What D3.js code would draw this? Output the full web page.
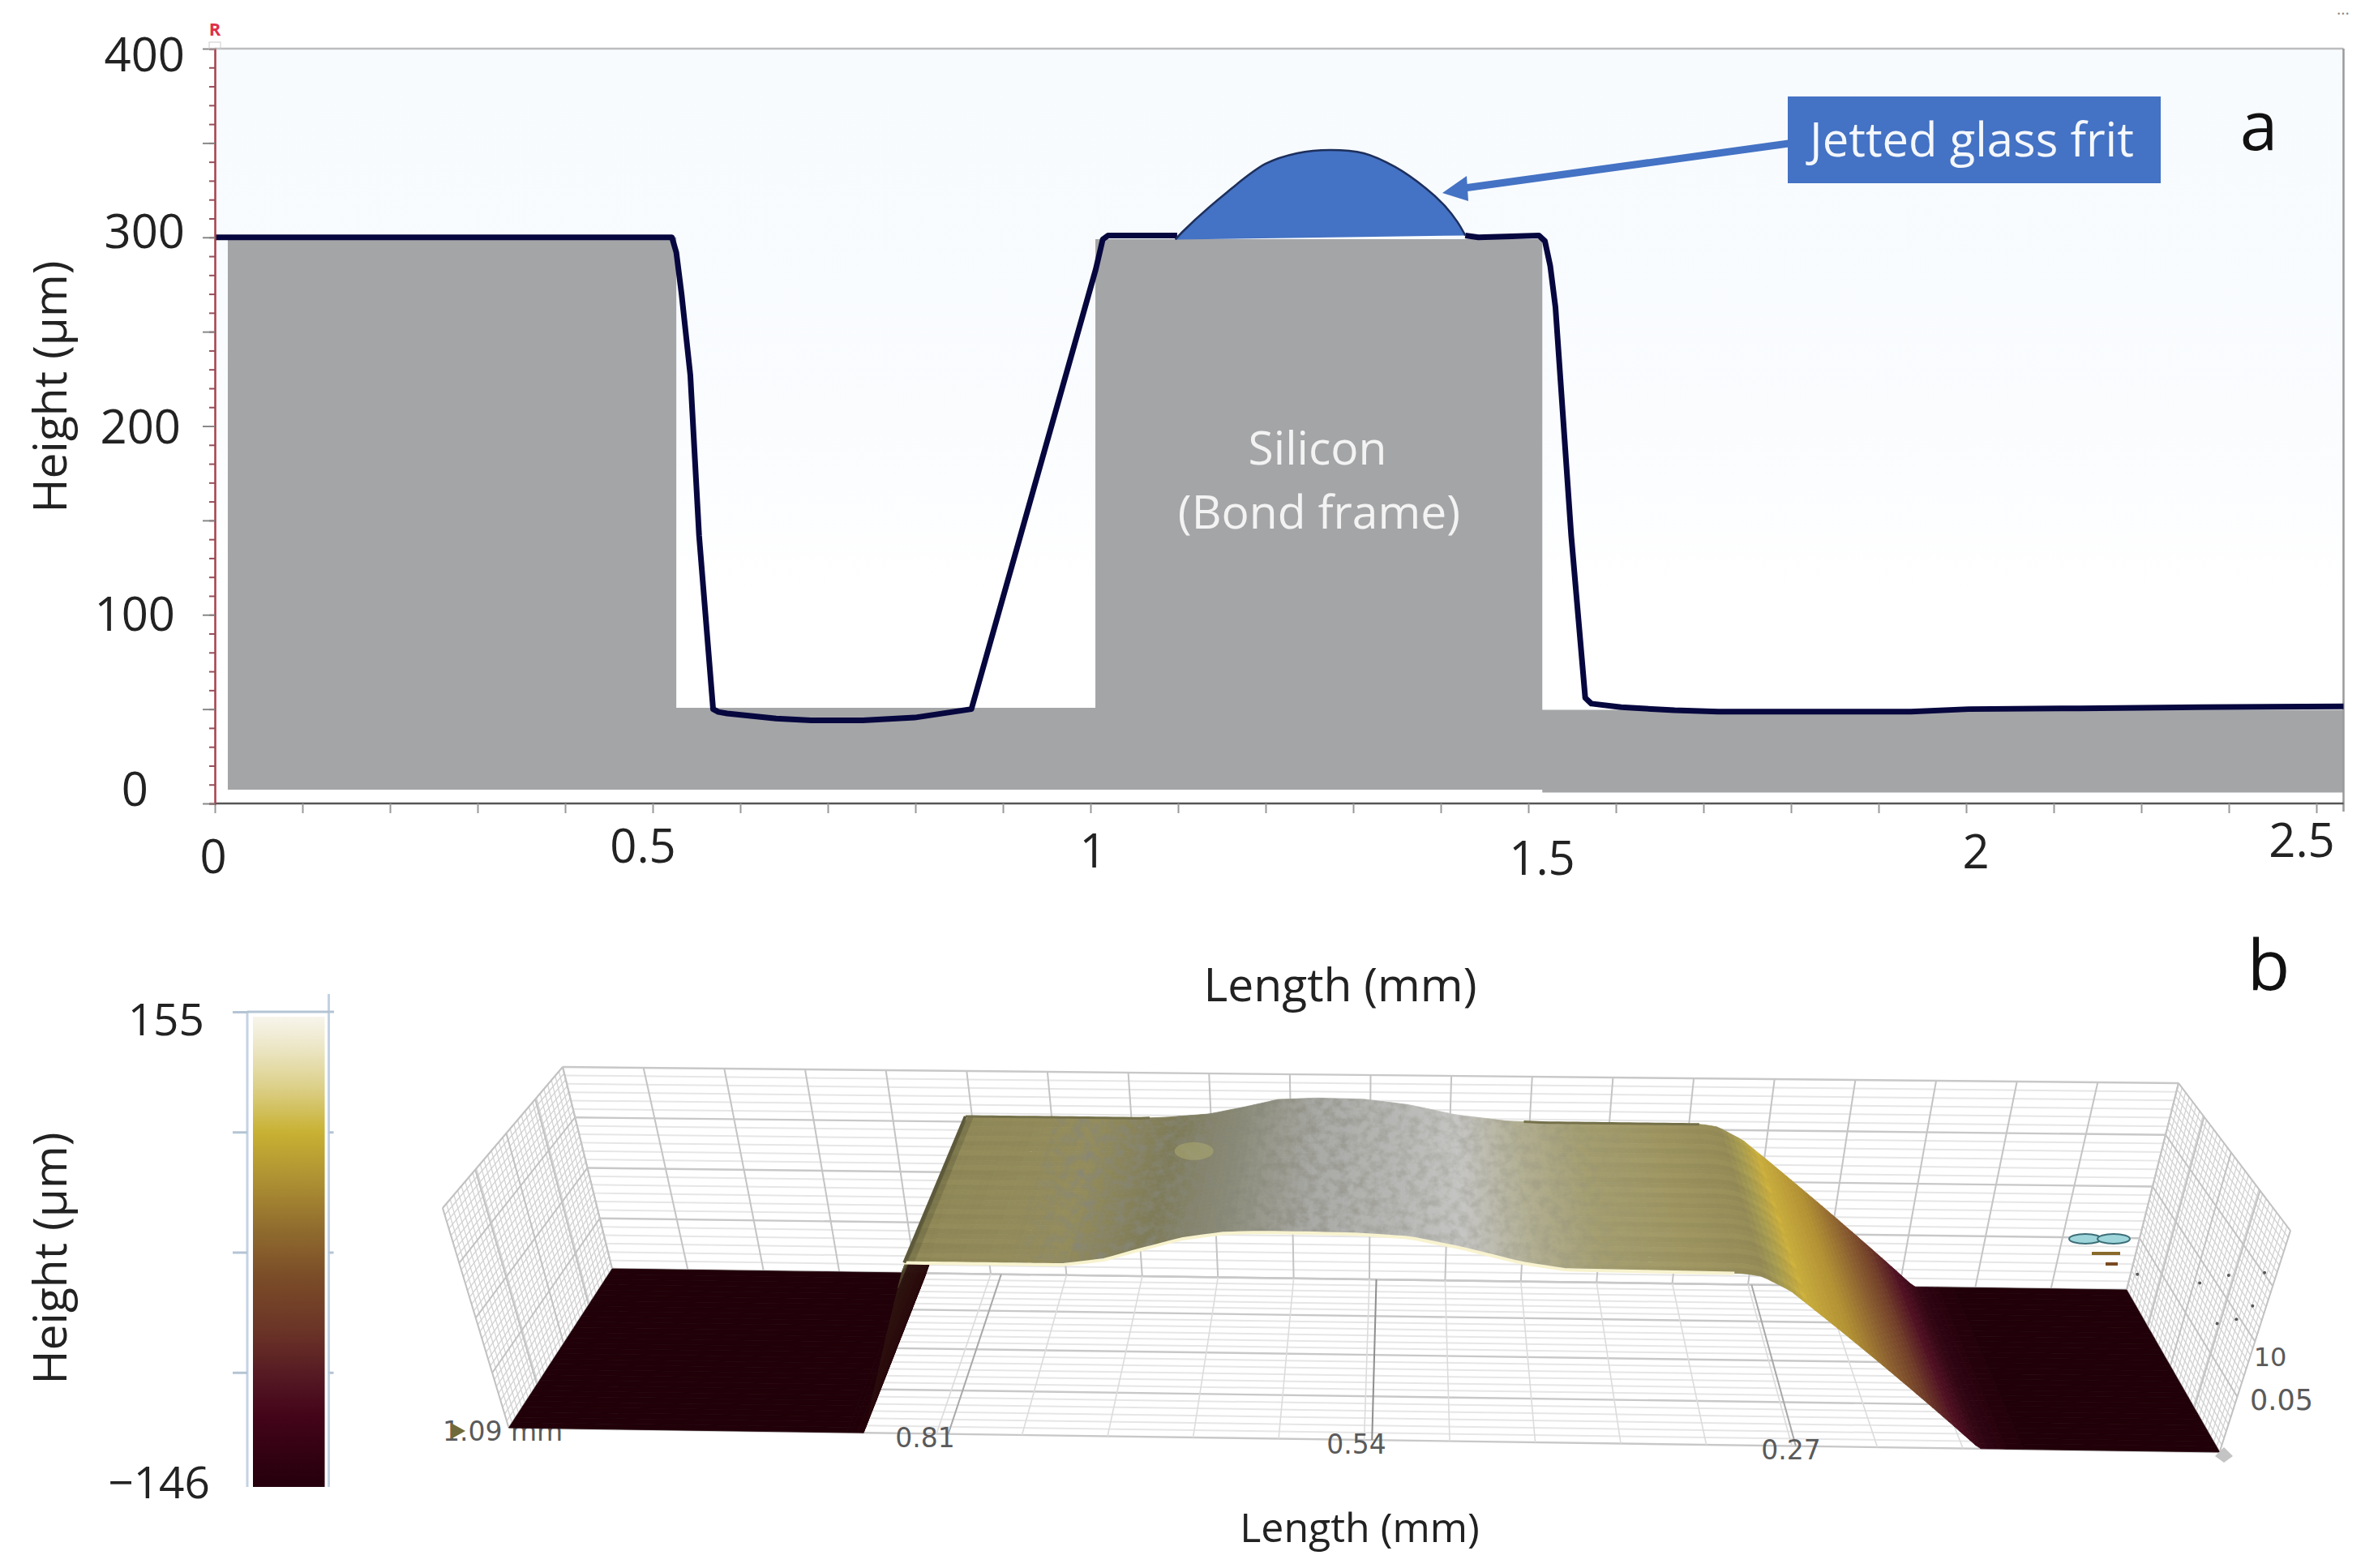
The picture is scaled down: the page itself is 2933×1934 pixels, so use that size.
<!DOCTYPE html>
<html>
<head>
<meta charset="utf-8">
<script src="https://cdn.jsdelivr.net/npm/d3@7"></script>
<style>
html,body{margin:0;padding:0;background:#fff}
svg{display:block}
text{font-family:"Open Sans",sans-serif;fill:#222}
.mono{font-family:"DejaVu Sans",sans-serif;fill:#5a5a5a}
</style>
</head>
<body>
<svg id="c" width="2933" height="1934"></svg>
<script>
// ---------- panel a data (mm, µm) ----------
const yTicks = [0, 100, 200, 300, 400];
const xTickValues = [0, 0.5, 1, 1.5, 2, 2.5];
const xTickLabels = ["0", "0.5", "1", "1.5", "2", "2.5"];
const siliconLength = [0.0148, 0.0148, 0.527, 0.527, 1.0056, 1.0056, 1.516, 1.516, 2.431, 2.431, 1.516, 1.516];
const siliconHeight = [7.3, 300, 300, 50.7, 50.7, 299, 299, 49.6, 49.6, 5.8, 5.8, 7.3];
const profileLeftLength = [0, 0.522, 0.527, 0.533, 0.543, 0.553, 0.569, 0.575, 0.585, 0.641, 0.681, 0.740, 0.799, 0.864, 1.006, 1.014, 1.020, 1.099];
const profileLeftHeight = [300, 300, 292, 270, 227, 142, 50, 48.5, 47.7, 45, 44, 44, 45.5, 50, 283, 298.9, 301, 301];
const fritLength = [1.097, 1.105, 1.153, 1.200, 1.236, 1.274, 1.312, 1.348, 1.383, 1.404, 1.419, 1.428];
const fritHeight = [298.8, 302.9, 322.8, 339, 344.6, 346.3, 344.6, 337.3, 326, 317, 308.2, 301];
const profileRightLength = [1.428, 1.443, 1.512, 1.519, 1.525, 1.531, 1.549, 1.565, 1.572, 1.606, 1.667, 1.717, 1.937, 2.003, 2.130, 2.268, 2.431];
const profileRightHeight = [301, 300, 301, 298, 285, 263, 142, 56, 52.9, 51, 49.4, 48.7, 48.7, 50, 50.4, 51, 51.5];

// ---------- panel b data ----------
const colorbarValues = [155, 134, 110, 81, 50, 18, -11, -47, -80, -101, -146];
const colorbarColors = ["#f7f5ec", "#ebe5c3", "#dcd089", "#c8b133", "#ad9033", "#8f6b2e", "#7b4d28", "#6a3327", "#511522", "#430419", "#25000c"];
const colorbarTicks = [-146, -70.75, 4.5, 79.75, 155];
const surfaceLength = [1.09, 0.863, 0.822, 0.727, 0.702, 0.685, 0.655, 0.630, 0.608, 0.582, 0.550, 0.519, 0.487, 0.452, 0.425, 0.318, 0.307, 0.289, 0.153, 0];
const surfaceFront = [-146, -146, 104, 104, 112, 124, 144, 153, 155, 155, 154, 150, 135, 115, 106, 104, 100, 80, -146, -146];
const surfaceBack = [-146, -146, 104, 104, 104, 106, 112, 124, 136, 139, 138, 130, 115, 106, 104, 104, 100, 80, -146, -146];
const shadeLength = [1.09, 0.867, 0.859, 0.830, 0.824, 0.815, 0.730, 0.676, 0.632, 0.578, 0.523, 0.485, 0.447, 0.403, 0.349, 0.305, 0.294, 0.278, 0.245, 0.218, 0.191, 0.169, 0.147, 0.125, 0];
const shadeColors = ["#210009", "#210009", "#2a0a0c", "#2e1510", "#5a5638", "#8f8757", "#948c5c", "#7d7a58", "#8a8a78", "#a9a9a6", "#b8b8b6", "#c5c5c3", "#b3b095", "#a39d70", "#9c9360", "#938a56", "#a59a50", "#c9ad3c", "#b08f33", "#8e6330", "#6e3a28", "#4f1022", "#2e0412", "#210009", "#210009"];
const stripeShade = [1.03, 0.98, 1.05, 0.99, 0.96, 1.04, 1.0, 0.97, 1.05, 1.01, 0.97, 1.04, 0.99, 1.02, 0.98];
const labelledLengths = [0.81, 0.54, 0.27];
const depthMajor = [0, 0.272, 0.53, 0.772, 1];
const wallDotDepth = [0.95, 0.49, 0.08, 0.09, 0.17, 0.29, 0.31];
const wallDotHeight = [0.114, 0.418, 0.756, 0.598, 0.481, 0.375, 0.583];

const svg = d3.select("#c");
const defs = svg.append("defs");
const BLUE = "#4472c4";

// ================= PANEL A =================
const x = d3.scaleLinear([0, 2.5], [265, 2965]);
const y = d3.scaleLinear([0, 400], [991, 60]);

const bg = defs.append("linearGradient").attr("id", "plotBg").attr("x1", 0).attr("x2", 0).attr("y1", 0).attr("y2", 1);
[[0, "#f7fbfe"], [0.5, "#fafcfe"], [0.72, "#ffffff"]].forEach(s => bg.append("stop").attr("offset", s[0]).attr("stop-color", s[1]));
svg.append("rect").attr("x", x(0)).attr("y", y(400)).attr("width", x(2.431) - x(0)).attr("height", y(0) - y(400)).attr("fill", "url(#plotBg)");

const line = d3.line().x(d => x(d[0])).y(d => y(d[1]));
const smooth = d3.line().x(d => x(d[0])).y(d => y(d[1])).curve(d3.curveCatmullRom.alpha(0.5));
const zipXY = (a, b) => a.map((v, i) => [v, b[i]]);

svg.append("path").attr("d", line(zipXY(siliconLength, siliconHeight)) + "Z").attr("fill", "#a4a5a7");

// frame
svg.append("line").attr("x1", x(0)).attr("x2", x(2.431)).attr("y1", y(400)).attr("y2", y(400)).attr("stroke", "#bdbdbd").attr("stroke-width", 2.5);
svg.append("line").attr("x1", x(2.431)).attr("x2", x(2.431)).attr("y1", y(400)).attr("y2", y(0) + 10).attr("stroke", "#9a9a9a").attr("stroke-width", 2.5);

// profile
[[profileLeftLength, profileLeftHeight], [profileRightLength, profileRightHeight]].forEach(p => {
  svg.append("path").attr("d", line(zipXY(p[0], p[1]))).attr("fill", "none")
    .attr("stroke", "#07073f").attr("stroke-width", 7).attr("stroke-linejoin", "round");
});

// frit
svg.append("path").attr("d", smooth(zipXY(fritLength, fritHeight)) + "Z").attr("fill", BLUE);
svg.append("path").attr("d", smooth(zipXY(fritLength, fritHeight))).attr("fill", "none").attr("stroke", "#1d2f5c").attr("stroke-width", 2.5);

// axes
const xAxisG = svg.append("g").attr("transform", `translate(0,${y(0)})`)
  .call(d3.axisBottom(x).tickValues(d3.range(0, 25).map(i => i / 10)).tickSize(12).tickFormat(""));
xAxisG.select(".domain").attr("d", `M${x(0)},0H${x(2.431)}`).attr("stroke", "#555").attr("stroke-width", 2.5);
xAxisG.selectAll(".tick line").attr("stroke", "#999").attr("stroke-width", 2);

const yMinor = svg.append("g").attr("transform", `translate(${x(0)},0)`)
  .call(d3.axisLeft(y).tickValues(d3.range(0, 401, 10)).tickSize(7).tickFormat(""));
yMinor.select(".domain").attr("stroke", "#a8404a").attr("stroke-width", 2.5);
yMinor.selectAll(".tick line").attr("stroke", "#94505a").attr("stroke-width", 2);
const yMajor = svg.append("g").attr("transform", `translate(${x(0)},0)`)
  .call(d3.axisLeft(y).tickValues(d3.range(0, 401, 50)).tickSize(15).tickFormat(""));
yMajor.select(".domain").remove();
yMajor.selectAll(".tick line").attr("stroke", "#888").attr("stroke-width", 2);

// tick labels (hand placed in the reference)
const yLabelAnchor = [[183, 994], [216, 778], [223, 547], [228, 306], [228, 88]];
yTicks.forEach((v, i) => svg.append("text").attr("x", yLabelAnchor[i][0]).attr("y", yLabelAnchor[i][1])
  .attr("text-anchor", "end").attr("font-size", 58).text(v));
const xLabelNudge = [[-2, 86], [-12, 73], [3, 79], [17, 88], [12, 80], [-126, 66]];
xTickValues.forEach((v, i) => svg.append("text").attr("x", x(v) + xLabelNudge[i][0]).attr("y", y(0) + xLabelNudge[i][1])
  .attr("text-anchor", "middle").attr("font-size", 58).text(xTickLabels[i]));

const vText = (t, cy) => svg.append("text").attr("transform", `translate(82,${cy}) rotate(-90)`)
  .attr("text-anchor", "middle").attr("font-size", 57).text(t);
vText("Height (µm)", 477);
svg.append("text").attr("x", 1653).attr("y", 1235).attr("text-anchor", "middle").attr("font-size", 57).text("Length (mm)");

svg.append("text").attr("x", 265).attr("y", 44).attr("text-anchor", "middle").attr("font-size", 22).attr("font-weight", 700).style("fill", "#e0304a").text("R");
svg.append("rect").attr("x", 258).attr("y", 52).attr("width", 14).attr("height", 8).attr("fill", "none").attr("stroke", "#ccc");
svg.append("text").attr("x", 2890).attr("y", 24).attr("text-anchor", "middle").attr("font-size", 20).style("fill", "#888").text("···");

// silicon text
svg.append("text").attr("x", 1625).attr("y", 573).attr("text-anchor", "middle").attr("font-size", 57).style("fill", "#f3f3f3").text("Silicon");
svg.append("text").attr("x", 1627).attr("y", 652).attr("text-anchor", "middle").attr("font-size", 57).style("fill", "#f3f3f3").text("(Bond frame)");

// annotation
svg.append("line").attr("x1", 1806).attr("y1", 232).attr("x2", 2206).attr("y2", 177).attr("stroke", BLUE).attr("stroke-width", 9);
svg.append("path").attr("d", "M1779,238L1809,217L1811,248Z").attr("fill", BLUE);
svg.append("rect").attr("x", 2205).attr("y", 119).attr("width", 460).attr("height", 107).attr("fill", BLUE);
svg.append("text").attr("x", 2432).attr("y", 193).attr("text-anchor", "middle").attr("font-size", 58).style("fill", "#f4f7fb").text("Jetted glass frit");
svg.append("text").attr("x", 2786).attr("y", 185).attr("text-anchor", "middle").attr("font-size", 84).style("fill", "#111").text("a");
svg.append("text").attr("x", 2798).attr("y", 1221).attr("text-anchor", "middle").attr("font-size", 86).style("fill", "#111").text("b");

// ================= PANEL B =================
// colour bar
const barY = d3.scaleLinear([-146, 155], [1841, 1248]);
const barGrad = defs.append("linearGradient").attr("id", "barGrad").attr("x1", 0).attr("x2", 0).attr("y1", 0).attr("y2", 1);
colorbarValues.forEach((v, i) => barGrad.append("stop").attr("offset", (155 - v) / 301).attr("stop-color", colorbarColors[i]));
svg.append("rect").attr("x", 312).attr("y", 1254).attr("width", 88.5).attr("height", 580).attr("fill", "url(#barGrad)");
const frameCol = "#b4c4d4";
svg.append("line").attr("x1", 305).attr("x2", 305).attr("y1", 1248).attr("y2", 1834).attr("stroke", "#c3d2e4").attr("stroke-width", 3);
svg.append("line").attr("x1", 405.5).attr("x2", 405.5).attr("y1", 1226).attr("y2", 1834).attr("stroke", "#c3d2e4").attr("stroke-width", 3);
const barAxisL = svg.append("g").attr("transform", "translate(305,0)")
  .call(d3.axisLeft(barY).tickValues(colorbarTicks.slice(1)).tickSize(18).tickFormat(""));
barAxisL.select(".domain").remove();
barAxisL.selectAll(".tick line").attr("stroke", frameCol).attr("stroke-width", 3);
const barAxisR = svg.append("g").attr("transform", "translate(405.5,0)")
  .call(d3.axisRight(barY).tickValues(colorbarTicks.slice(1, 4)).tickSize(6).tickFormat(""));
barAxisR.select(".domain").remove();
barAxisR.selectAll(".tick line").attr("stroke", frameCol).attr("stroke-width", 3);
svg.append("line").attr("x1", 305).attr("x2", 412).attr("y1", barY(155)).attr("y2", barY(155)).attr("stroke", frameCol).attr("stroke-width", 3);
svg.append("text").attr("x", 252).attr("y", 1277).attr("text-anchor", "end").attr("font-size", 55).text("155");
svg.append("text").attr("x", 259).attr("y", 1848).attr("text-anchor", "end").attr("font-size", 55).text("\u2212146");
vText("Height (µm)", 1552);
svg.append("text").attr("x", 1677).attr("y", 1902).attr("text-anchor", "middle").attr("font-size", 50).text("Length (mm)");

// 3D projection: length (mm), depth (0 front .. 1 back), height (µm)
const uOf = d3.scaleLinear([1.09, 0], [0, 1]);
const wOf = d3.scaleLinear([-146, 176], [0, 1]);
const floorC = { fl: [627.5, 1761], fr: [2737.6, 1791], bl: [755, 1565], br: [2623, 1591] };
const topC = { fl: [546, 1490], fr: [2825, 1518], bl: [694, 1316], br: [2687, 1336] };
const lerp = (a, b, t) => [a[0] + (b[0] - a[0]) * t, a[1] + (b[1] - a[1]) * t];
const bil = (c, u, d) => lerp(lerp(c.fl, c.fr, u), lerp(c.bl, c.br, u), d);
const projW = (s, d, w) => lerp(bil(floorC, uOf(s), d), bil(topC, uOf(s), d), w);
const project = (s, d, z) => projW(s, d, wOf(z));

const grid = svg.append("g").attr("fill", "none");
const seg = (a, b, col, w) => grid.append("line").attr("x1", a[0]).attr("y1", a[1]).attr("x2", b[0]).attr("y2", b[1]).attr("stroke", col).attr("stroke-width", w);

// minor lines
const lengthLines = d3.range(0, 21).map(k => 1.09 * (1 - k / 20));
const wMajor = [0, 0.25, 0.5, 0.75, 1];
for (let i = 0; i < 4; i++) for (let j = 1; j < 6; j++) {
  const w = wMajor[i] + (wMajor[i + 1] - wMajor[i]) * j / 6;
  seg(projW(1.09, 1, w), projW(0, 1, w), "#e6e6e6", 2);
  const d = depthMajor[i] + (depthMajor[i + 1] - depthMajor[i]) * j / 6;
  seg(projW(1.09, d, 0), projW(0, d, 0), "#e6e6e6", 2);
}
// side wall lattice
[1.09, 0].forEach(s => {
  d3.range(0, 33).forEach(k => seg(projW(s, k / 32, 0), projW(s, k / 32, 1), "#d2d2d2", 1.3));
  d3.range(0, 33).forEach(k => seg(projW(s, 0, k / 32), projW(s, 1, k / 32), "#d2d2d2", 1.3));
  wMajor.forEach(w => seg(projW(s, 0, w), projW(s, 1, w), "#c2c2c2", 2));
  depthMajor.forEach(d => seg(projW(s, d, 0), projW(s, d, 1), "#c2c2c2", 2));
});
// major lines
wMajor.forEach(w => seg(projW(1.09, 1, w), projW(0, 1, w), "#c8c8c8", 2.4));
depthMajor.forEach(d => seg(projW(1.09, d, 0), projW(0, d, 0), "#c8c8c8", 2.4));
lengthLines.forEach(s => {
  seg(projW(s, 1, 0), projW(s, 1, 1), "#c4c4c4", 2);
  seg(projW(s, 0, 0), projW(s, 1, 0), "#dcdcdc", 1.6);
});
labelledLengths.forEach(s => seg(projW(s, 0, 0), projW(s, 1, 0), s === 0.54 ? "#8f8f8f" : "#a8a8a8", 2));

// axis labels on the box
const mono = (t, xx, yy, size, anchor) => svg.append("text").attr("class", "mono").attr("x", xx).attr("y", yy)
  .attr("text-anchor", anchor || "middle").attr("dominant-baseline", "central").attr("font-size", size).text(t);
mono("1.09 mm", 546, 1765, 33, "start");
svg.append("path").attr("d", "M556,1755L574,1765L556,1775Z").attr("fill", "#6f6a3c");

// surface mesh
const zF = d3.scaleLinear(surfaceLength, surfaceFront);
const zB = d3.scaleLinear(surfaceLength, surfaceBack);
const zAt = (s, d) => zF(s) + (zB(s) - zF(s)) * d;
const shade = d3.scaleLinear(shadeLength, shadeColors).interpolate(d3.interpolateRgb);
const stripeStrength = d3.scaleLinear([0.80, 0.72, 0.44, 0.36], [0.55, 0, 0, 0.55]).clamp(true);
const cols = [1.09, 0.875].concat(d3.range(0, 185).map(i => 0.872 - i * 0.004)).concat([0.125, 0]);
const nRows = 30;
const quads = [];
for (let r = nRows; r > 0; r--) {
  const d1 = r / nRows, d0 = (r - 1) / nRows;
  const sh = stripeShade[r % stripeShade.length];
  for (let c = 0; c < cols.length - 1; c++) {
    const a = cols[c], b = cols[c + 1], m = (a + b) / 2;
    const base = d3.rgb(shade(m));
    const k = zAt(m, (d0 + d1) / 2) < 60 ? 1 : 1 + (sh - 1) * stripeStrength(m);
    quads.push({
      pts: [project(a, d1, zAt(a, d1)), project(b, d1, zAt(b, d1)), project(b, d0, zAt(b, d0)), project(a, d0, zAt(a, d0))],
      col: d3.rgb(base.r * k, base.g * k, base.b * k).formatHex()
    });
  }
}
svg.append("g").selectAll("path").data(quads).join("path")
  .attr("d", q => "M" + q.pts.map(p => p[0].toFixed(1) + "," + p[1].toFixed(1)).join("L") + "Z")
  .attr("fill", q => q.col).attr("stroke", q => q.col).attr("stroke-width", 0.8);

// frit texture
const filt = defs.append("filter").attr("id", "grain").attr("x", 0).attr("y", 0).attr("width", 1).attr("height", 1);
filt.append("feTurbulence").attr("type", "fractalNoise").attr("baseFrequency", "0.08 0.09").attr("numOctaves", 4).attr("seed", 7).attr("result", "n");
filt.append("feColorMatrix").attr("in", "n").attr("type", "matrix").attr("values", "0 0 0 0 0.24  0 0 0 0 0.24  0 0 0 0 0.19  2.4 0 0 0 -0.9");
filt.append("feComposite").attr("in2", "SourceAlpha").attr("operator", "in");
const fade = defs.append("linearGradient").attr("id", "fritFade").attr("x1", 0).attr("x2", 1).attr("y1", 0).attr("y2", 0);
[[0, 0.1], [0.12, 0.95], [0.3, 0.85], [0.6, 0.4], [0.85, 0.3], [1, 0]].forEach(s => fade.append("stop").attr("offset", s[0]).attr("stop-color", "#000").attr("stop-opacity", s[1]));
const fritS = d3.range(0.76, 0.36, -0.01);
const fritOutline = fritS.map(s => project(s, 1, zAt(s, 1))).concat(fritS.slice().reverse().map(s => project(s, 0, zAt(s, 0))));
svg.append("path").attr("d", "M" + fritOutline.map(p => p.join(",")).join("L") + "Z").attr("fill", "url(#fritFade)").attr("filter", "url(#grain)").attr("opacity", 0.85);
const blob = project(0.66, 0.72, 118);
svg.append("ellipse").attr("cx", blob[0]).attr("cy", blob[1]).attr("rx", 24).attr("ry", 11).attr("fill", "#a8a670").attr("opacity", 0.6);

// glint on the front edge, dark edge on the plain parts of the back
const edge = (d, col, w, from, to) => {
  const ss = d3.range(from, to, -0.006);
  svg.append("path").attr("d", "M" + ss.map(s => project(s, d, zAt(s, d)).join(",")).join("L")).attr("fill", "none").attr("stroke", col).attr("stroke-width", w);
};
edge(0, "#f8f3cf", 4, 0.822, 0.318);
edge(1, "#74704a", 3, 0.822, 0.690);
edge(1, "#74704a", 3, 0.440, 0.318);
const lEdge = [project(0.822, 0, 104), project(0.822, 1, 104)];
svg.append("path").attr("d", "M" + lEdge.join("L")).attr("stroke", "#5d5a3c").attr("stroke-width", 4).attr("fill", "none");

mono("0.81", 1141, 1773, 33);
mono("0.54", 1673, 1781, 33);
mono("0.27", 2209, 1788, 33);
mono("10", 2800, 1674, 32);
mono("0.05", 2814, 1727, 35);

// corner marker and stray artefacts of the instrument view
svg.append("path").attr("d", "M2732,1796L2743,1785L2754,1796L2743,1804Z").attr("fill", "#c4c4c4");
svg.append("ellipse").attr("cx", 2572).attr("cy", 1528).attr("rx", 20).attr("ry", 6).attr("fill", "#9fd6dc").attr("stroke", "#3d6f78").attr("stroke-width", 2);
svg.append("ellipse").attr("cx", 2607).attr("cy", 1528).attr("rx", 20).attr("ry", 6).attr("fill", "#9fd6dc").attr("stroke", "#3d6f78").attr("stroke-width", 2);
svg.append("rect").attr("x", 2580).attr("y", 1544).attr("width", 35).attr("height", 4).attr("fill", "#8a6a2a");
svg.append("rect").attr("x", 2597).attr("y", 1557).attr("width", 15).attr("height", 4).attr("fill", "#7a4a22");
svg.append("g").selectAll("circle").data(wallDotDepth).join("circle")
  .attr("cx", (d, i) => projW(0, d, wallDotHeight[i])[0]).attr("cy", (d, i) => projW(0, d, wallDotHeight[i])[1])
  .attr("r", 2).attr("fill", "#555");
</script>
</body>
</html>
